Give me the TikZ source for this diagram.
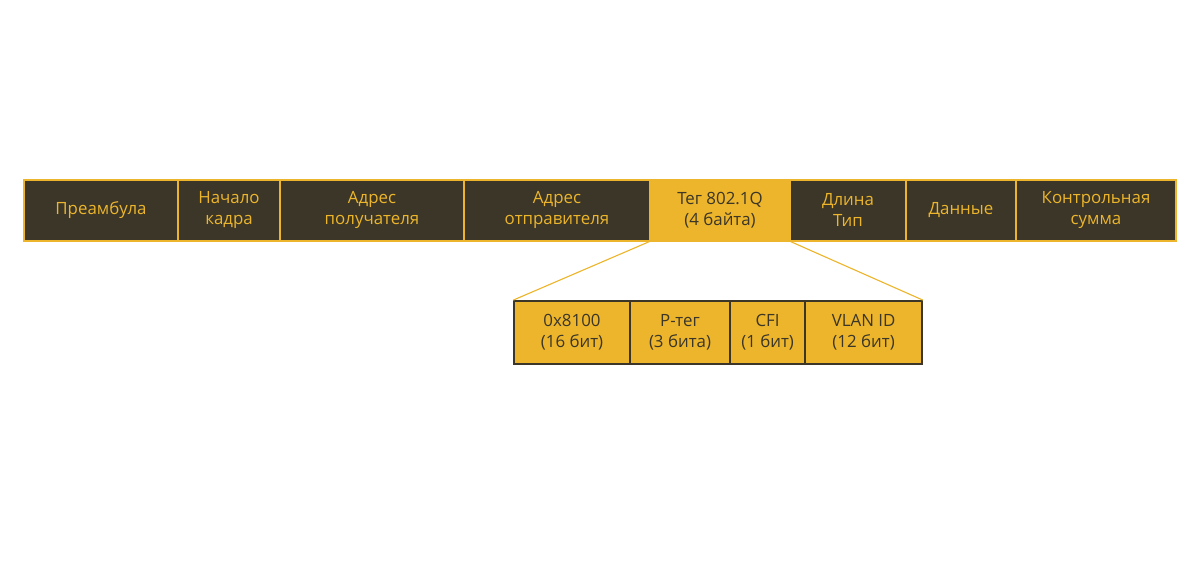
\documentclass[tikz,border=0pt]{standalone}
\usepackage{fontspec}
\setmainfont{Open Sans}
\usetikzlibrary{positioning}
\definecolor{framedark}{RGB}{ 59, 54, 40}
\definecolor{frameyel} {RGB}{236,181, 44}
\begin{document}
\begin{tikzpicture}[
  fld/.style={rectangle, minimum height=1.525cm, align=center,
    font=\fontsize{12}{15}\selectfont, fill=framedark, draw=frameyel,
    text=frameyel, line width=1.1pt, inner sep=0pt},
  tagfld/.style={fld, fill=frameyel, draw=frameyel, text=framedark},
  bitfld/.style={rectangle, minimum height=1.575cm, align=center,
    font=\fontsize{12}{15}\selectfont, fill=frameyel, draw=framedark,
    text=framedark, line width=1.1pt, inner sep=0pt},
  zoomln/.style={draw=frameyel, line width=0.8pt},
]
\useasboundingbox (0,0) rectangle (30,14.7);
%% Ethernet frame
\node[fld, minimum width=3.85cm] (pre)  at ( 2.525,9.44) {Преамбула};
\node[fld, minimum width=2.55cm] (sfd)  at ( 5.725,9.44) {Начало\\кадра};
\node[fld, minimum width=4.60cm] (dst)  at ( 9.300,9.44) {Адрес\\получателя};
\node[fld, minimum width=4.65cm] (src)  at (13.925,9.44) {Адрес\\отправителя};
\node[tagfld, minimum width=3.50cm] (tag) at (18.000,9.44) {Тег 802.1Q\\(4 байта)};
\node[fld, minimum width=2.90cm] (len)  at (21.200,9.44) {Длина\\Тип};
\node[fld, minimum width=2.75cm] (dat)  at (24.025,9.44) {Данные};
\node[fld, minimum width=4.00cm] (fcs)  at (27.400,9.44) {Контрольная\\сумма};
%% Tag fields
\node[bitfld, minimum width=2.900cm] (tpid) at (14.300,6.39) {0x8100\\(16 бит)};
\node[bitfld, minimum width=2.500cm] (pcp)  at (17.000,6.39) {P-тег\\(3 бита)};
\node[bitfld, minimum width=1.875cm] (cfi)  at (19.190,6.39) {CFI\\(1 бит)};
\node[bitfld, minimum width=2.925cm] (vid)  at (21.590,6.39) {VLAN ID\\(12 бит)};
%% Zoom lines
\draw[zoomln] (tag.south west) -- (tpid.north west);
\draw[zoomln] (tag.south east) -- (vid.north east);
\end{tikzpicture}
\end{document}
